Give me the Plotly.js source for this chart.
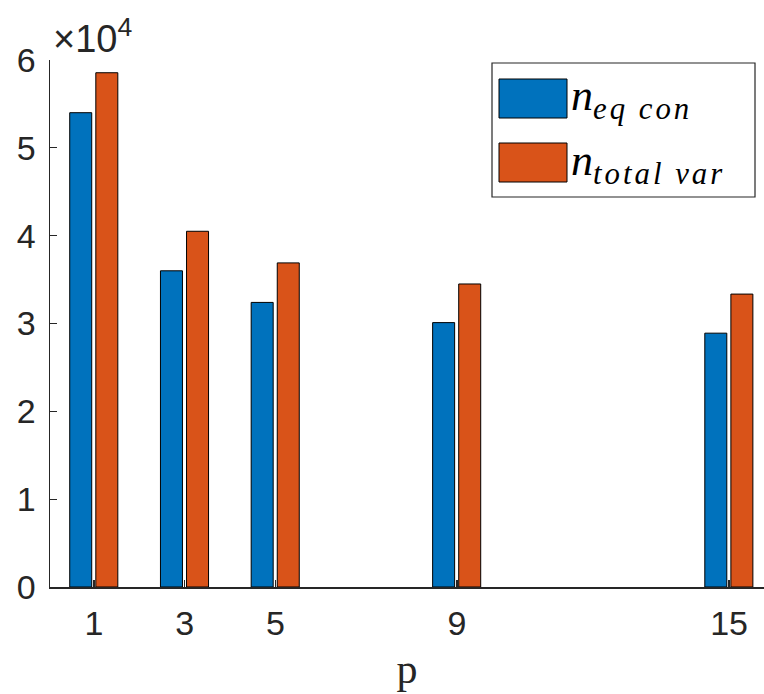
<!DOCTYPE html>
<html>
<head>
<meta charset="utf-8">
<script src="https://cdn.plot.ly/plotly-3.0.1.min.js"></script>
<style>html,body{margin:0;padding:0;background:#fff;}#chart{width:764px;height:694px;}</style>
</head>
<body>
<div id="chart"></div>
<script>
// Data
const pValues = [1, 3, 5, 9, 15];
const nEqCon = [54000, 36000, 32400, 30100, 28900];
const nTotalVar = [58550, 40500, 36900, 34500, 33350];
const xTickLabels = ['1', '3', '5', '9', '15'];
const yTickVals = [0, 10000, 20000, 30000, 40000, 50000, 60000];
const yTickLabels = ['0', '1', '2', '3', '4', '5', '6'];
const seriesNames = ['n_eq con', 'n_total var'];
const legendSubs = ['eq con', 'total var'];

const axisColor = '#262626';
const blue = '#0072BD';
const orange = '#D95319';

const traces = [
  {
    type: 'bar', name: seriesNames[0], x: pValues, y: nEqCon,
    width: 0.485, offset: -0.535,
    marker: {color: blue, line: {color: '#000', width: 1}},
    showlegend: false, hoverinfo: 'x+y'
  },
  {
    type: 'bar', name: seriesNames[1], x: pValues, y: nTotalVar,
    width: 0.485, offset: 0.04,
    marker: {color: orange, line: {color: '#000', width: 1}},
    showlegend: false, hoverinfo: 'x+y'
  }
];

// plot area: x 50..764, y 60..587
const L = 50, R = 764, T = 60, B = 587;
const W = R - L, H = B - T;
const px = v => (v - L) / W;
const py = v => (B - v) / H;

const shapes = [
  {type: 'rect', xref: 'paper', yref: 'paper', x0: px(492), x1: px(755), y0: py(197), y1: py(63),
   line: {color: axisColor, width: 1.2}, fillcolor: '#fff', layer: 'above'},
  {type: 'rect', xref: 'paper', yref: 'paper', x0: px(499), x1: px(567), y0: py(118), y1: py(79),
   line: {color: '#000', width: 1}, fillcolor: blue, layer: 'above'},
  {type: 'rect', xref: 'paper', yref: 'paper', x0: px(499), x1: px(567), y0: py(182), y1: py(143),
   line: {color: '#000', width: 1}, fillcolor: orange, layer: 'above'}
];

const legendFont = {family: 'Liberation Serif', size: 44, color: '#000', style: 'italic'};
const legendText = s => '<i>n</i><sub><i><span style="letter-spacing:3px">' + s + '</span></i></sub>';
const annotations = [
  {xref: 'paper', yref: 'paper', x: px(569), y: py(99), xanchor: 'left', yanchor: 'middle',
   text: legendText(legendSubs[0]), showarrow: false, font: legendFont},
  {xref: 'paper', yref: 'paper', x: px(569), y: py(163), xanchor: 'left', yanchor: 'middle',
   text: legendText(legendSubs[1]), showarrow: false, font: legendFont},
  {xref: 'paper', yref: 'paper', x: px(51), y: py(62), xanchor: 'left', yanchor: 'bottom',
   text: '×10<sup>4</sup>', showarrow: false,
   font: {family: 'Liberation Sans', size: 38, color: axisColor}}
];

const layout = {
  width: 764, height: 694,
  margin: {l: L, r: 764 - R, t: T, b: 694 - B, pad: 0},
  paper_bgcolor: '#fff', plot_bgcolor: '#fff',
  barmode: 'overlay',
  font: {family: 'Liberation Sans', color: axisColor},
  xaxis: {
    range: [0.03, 15.77],
    tickmode: 'array', tickvals: pValues, ticktext: xTickLabels,
    ticks: 'inside', ticklen: 7, tickwidth: 1.2, tickcolor: axisColor,
    showline: true, linecolor: axisColor, linewidth: 1.5,
    showgrid: false, zeroline: false,
    tickfont: {family: 'Liberation Sans', size: 34, color: axisColor},
    ticklabelstandoff: 6,
    title: {text: 'p', font: {family: 'Liberation Serif', size: 42, color: axisColor}, standoff: 12}
  },
  yaxis: {
    range: [0, 60000],
    tickmode: 'array', tickvals: yTickVals, ticktext: yTickLabels,
    ticks: 'inside', ticklen: 7, tickwidth: 1.2, tickcolor: axisColor,
    showline: true, linecolor: axisColor, linewidth: 1.5,
    showgrid: false, zeroline: false,
    tickfont: {family: 'Liberation Sans', size: 34, color: axisColor},
    ticklabelstandoff: 6
  },
  shapes: shapes,
  annotations: annotations
};

Plotly.newPlot('chart', traces, layout, {displayModeBar: false, staticPlot: true});
</script>
</body>
</html>
